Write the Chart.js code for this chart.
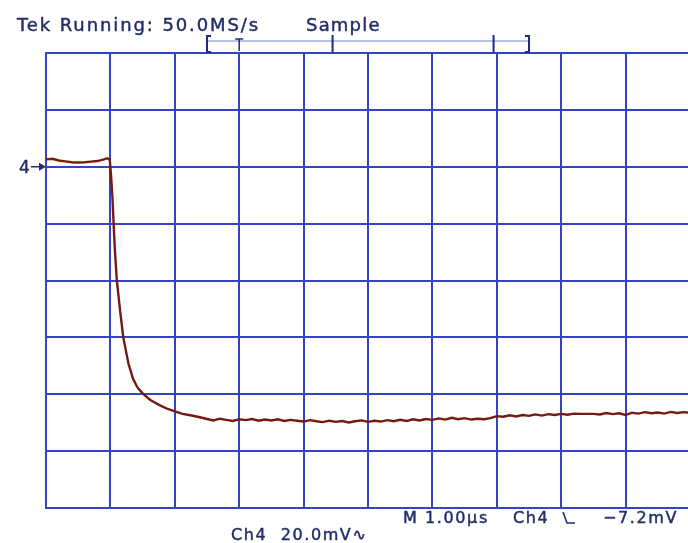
<!DOCTYPE html>
<html>
<head>
<meta charset="utf-8">
<script src="https://cdn.jsdelivr.net/npm/chart.js@4/dist/chart.umd.min.js"></script>
<style>
html,body{margin:0;padding:0;background:#fff;overflow:hidden;width:688px;height:543px;}
#wrap{position:absolute;left:0;top:0;width:700px;height:543px;}
</style>
</head>
<body>
<div id="wrap"><canvas id="c" width="700" height="543"></canvas></div>
<script>
// ---- data (time in µs, Ch4 in mV) ----
const timeUs = [
  0.00,0.10,0.20,0.30,0.40,0.50,0.60,0.70,0.80,0.90,0.95,0.99,
  1.01,1.03,1.05,1.07,1.10,1.15,1.20,1.28,1.35,1.42,1.50,1.62,1.77,1.88,2.00,2.12,2.24,2.39,
  2.50,2.60,2.70,2.80,2.90,3.00,3.10,3.20,3.30,3.40,3.50,3.60,3.70,3.80,3.90,
  4.00,4.10,4.20,4.30,4.40,4.50,4.60,4.70,4.80,4.90,
  5.00,5.10,5.20,5.30,5.40,5.50,5.60,5.70,5.80,5.90,
  6.00,6.10,6.20,6.30,6.40,6.50,6.60,6.70,6.80,6.90,
  7.00,7.10,7.20,7.30,7.40,7.50,7.60,7.70,7.80,7.90,
  8.00,8.10,8.20,8.30,8.40,8.50,8.60,8.70,8.80,8.90,
  9.00,9.10,9.20,9.30,9.40,9.50,9.60,9.70,9.80,9.90,10.00
];
const ch4mV = [
  42.6,42.8,42.2,41.9,41.6,41.5,41.6,41.8,42.0,42.6,43.0,42.5,
  36.9,29.9,20.0,10.5,0.0,-10.5,-20.0,-29.2,-34.5,-37.6,-39.7,-42.0,-43.9,-45.1,-46.0,-46.9,-47.4,-48.1,
  -48.7,-49.2,-48.6,-49.0,-49.4,-48.8,-49.1,-48.7,-49.3,-48.9,-49.2,-48.8,-49.4,-49.0,-49.3,
  -49.6,-49.1,-49.5,-49.8,-49.3,-49.7,-49.4,-49.9,-49.5,-49.2,
  -49.7,-49.3,-49.6,-49.1,-49.5,-49.0,-49.4,-48.8,-49.2,-48.7,
  -49.0,-48.5,-48.9,-48.3,-48.8,-48.4,-48.9,-48.6,-48.8,-48.4,
  -47.7,-47.9,-47.4,-47.8,-47.3,-47.6,-47.1,-47.5,-47.0,-47.3,
  -46.9,-47.2,-46.8,-46.9,-46.9,-46.9,-47.1,-46.6,-47.0,-46.7,
  -47.3,-46.5,-46.8,-46.3,-46.7,-46.4,-46.8,-46.2,-46.6,-46.3,-46.5
];
const xTicks = [0,1,2,3,4,5,6,7,8,9,10];      // 1.00 µs / div
const yTicks = [-80,-60,-40,-20,0,20,40,60,80]; // 20.0 mV / div
const ch4Ground = 40;                            // "4→" marker level (mV)
const recordMarks = {start:2.5, trigger:3.0, tick1:4.45, tick2:6.95, end:7.5};
const headerText = "Tek Running: 50.0MS/s";
const modeText = "Sample";
const scaleText = "Ch4  20.0mV\u223F";
const timeText = "M 1.00\u00B5s";
const trigChText = "Ch4";
const trigText = "\u22127.2mV";

const gridBlue = '#3344c6';
const textCol = '#222d6a';

function boldText(ctx, s, x, y){
  ctx.fillText(s, x, y);
  ctx.strokeText(s, x, y);
}

const overlay = {
  id:'overlay',
  afterDraw(chart){
    const ctx = chart.ctx, xs = chart.scales.x, ys = chart.scales.y;
    ctx.save();
    ctx.fillStyle = textCol;
    ctx.strokeStyle = textCol;
    ctx.lineWidth = 0.45;
    ctx.textBaseline = 'alphabetic';
    ctx.font = '18px "DejaVu Sans"';
    ctx.letterSpacing = '1.9px';
    boldText(ctx, headerText, 17, 31);
    ctx.letterSpacing = '1.2px';
    boldText(ctx, modeText, 306, 31);
    ctx.font = '16px "DejaVu Sans"';
    ctx.letterSpacing = '1.6px';
    boldText(ctx, timeText, 403, 523);
    boldText(ctx, trigChText, 513, 523);
    boldText(ctx, trigText, 603, 523);
    boldText(ctx, scaleText, 231, 540);
    // trigger slope symbol
    ctx.lineWidth = 1.6;
    ctx.beginPath(); ctx.moveTo(563,512); ctx.lineTo(567,523); ctx.lineTo(575,523); ctx.stroke();
    // channel marker
    const gy = ys.getPixelForValue(ch4Ground);
    ctx.letterSpacing = '0px';
    ctx.font = '17px "DejaVu Sans"';
    ctx.lineWidth = 0.45;
    boldText(ctx, '4', 19, gy + 6);
    ctx.lineWidth = 1.5;
    ctx.beginPath(); ctx.moveTo(31, gy); ctx.lineTo(44, gy); ctx.stroke();
    ctx.beginPath(); ctx.moveTo(39, gy-4); ctx.lineTo(46, gy); ctx.lineTo(39, gy+4); ctx.closePath(); ctx.fill();
    // record view bracket
    const top = chart.chartArea.top;
    const x0 = xs.getPixelForValue(recordMarks.start), x1 = xs.getPixelForValue(recordMarks.end);
    ctx.strokeStyle = '#7080d8'; ctx.lineWidth = 1.2;
    ctx.beginPath(); ctx.moveTo(x0, top-12); ctx.lineTo(x1, top-12); ctx.stroke();
    ctx.strokeStyle = '#1f2a80'; ctx.lineWidth = 2;
    ctx.beginPath();
    ctx.moveTo(x0+4, top-17); ctx.lineTo(x0, top-17); ctx.lineTo(x0, top-1); ctx.lineTo(x0+4, top-1);
    ctx.moveTo(x1-4, top-17); ctx.lineTo(x1, top-17); ctx.lineTo(x1, top-1); ctx.lineTo(x1-4, top-1);
    const t1 = xs.getPixelForValue(recordMarks.tick1), t2 = xs.getPixelForValue(recordMarks.tick2);
    ctx.moveTo(t1, top-18); ctx.lineTo(t1, top);
    ctx.moveTo(t2, top-18); ctx.lineTo(t2, top);
    ctx.stroke();
    const tx = xs.getPixelForValue(recordMarks.trigger);
    ctx.lineWidth = 1.5;
    ctx.beginPath();
    ctx.moveTo(tx-4, top-14); ctx.lineTo(tx+4, top-14);
    ctx.moveTo(tx, top-14); ctx.lineTo(tx, top-2);
    ctx.stroke();
    ctx.restore();
  }
};

new Chart(document.getElementById('c'), {
  type:'line',
  data:{
    datasets:[{
      data: timeUs.map((t,i)=>({x:t, y:ch4mV[i]})),
      borderColor:'#741a12',
      borderWidth:2.4,
      pointRadius:0,
      tension:0,
      fill:false
    }]
  },
  options:{
    responsive:false,
    animation:false,
    events:[],
    layout:{padding:{left:46, right:10, top:53, bottom:35}},
    plugins:{legend:{display:false}, tooltip:{enabled:false}},
    scales:{
      x:{
        type:'linear', min:0, max:10,
        afterBuildTicks(s){ s.ticks = xTicks.map(v=>({value:v})); },
        ticks:{display:false},
        grid:{color:gridBlue, lineWidth:2, drawTicks:false},
        border:{display:true, color:gridBlue, width:2}
      },
      y:{
        type:'linear', min:-80, max:80,
        afterBuildTicks(s){ s.ticks = yTicks.map(v=>({value:v})); },
        ticks:{display:false},
        grid:{color:gridBlue, lineWidth:2, drawTicks:false},
        border:{display:true, color:gridBlue, width:2}
      }
    }
  },
  plugins:[overlay]
});
</script>
</body>
</html>
